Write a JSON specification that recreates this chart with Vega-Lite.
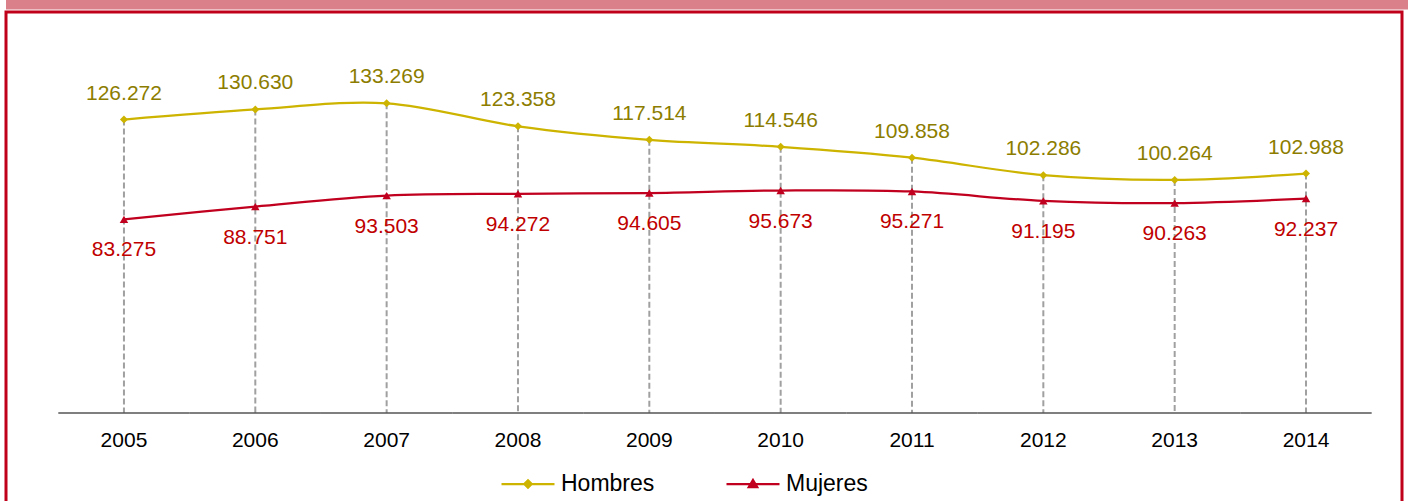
{
  "$schema": "https://vega.github.io/schema/vega-lite/v6.json",
  "padding": 0,
  "background": "white",
  "spacing": 0,
  "align": "none",
  "config": {
    "font": "Liberation Sans",
    "locale": {"number": {"decimal": ",", "thousands": ".", "grouping": [3], "currency": ["", " €"]}},
    "axisY": {"labels": false, "ticks": false, "domain": false, "grid": false, "minExtent": 4, "maxExtent": 4}
  },
  "datasets": {
    "pob": [
      {"year": "2005", "sexo": "Hombres", "value": 126272},
      {"year": "2006", "sexo": "Hombres", "value": 130630},
      {"year": "2007", "sexo": "Hombres", "value": 133269},
      {"year": "2008", "sexo": "Hombres", "value": 123358},
      {"year": "2009", "sexo": "Hombres", "value": 117514},
      {"year": "2010", "sexo": "Hombres", "value": 114546},
      {"year": "2011", "sexo": "Hombres", "value": 109858},
      {"year": "2012", "sexo": "Hombres", "value": 102286},
      {"year": "2013", "sexo": "Hombres", "value": 100264},
      {"year": "2014", "sexo": "Hombres", "value": 102988},
      {"year": "2005", "sexo": "Mujeres", "value": 83275},
      {"year": "2006", "sexo": "Mujeres", "value": 88751},
      {"year": "2007", "sexo": "Mujeres", "value": 93503},
      {"year": "2008", "sexo": "Mujeres", "value": 94272},
      {"year": "2009", "sexo": "Mujeres", "value": 94605},
      {"year": "2010", "sexo": "Mujeres", "value": 95673},
      {"year": "2011", "sexo": "Mujeres", "value": 95271},
      {"year": "2012", "sexo": "Mujeres", "value": 91195},
      {"year": "2013", "sexo": "Mujeres", "value": 90263},
      {"year": "2014", "sexo": "Mujeres", "value": 92237}
    ]
  },
  "vconcat": [
    {
      "width": 1408,
      "height": 9.5,
      "view": {"fill": "#d9808a", "stroke": null},
      "data": {"values": [{"a": 1}]},
      "mark": {"type": "point", "opacity": 0},
      "encoding": {}
    },
    {
      "width": 1396,
      "height": 500,
      "view": {"fill": "white", "stroke": "#c0001a", "strokeWidth": 3},
      "data": {"name": "pob"},
      "encoding": {
        "x": {
          "field": "year",
          "type": "ordinal",
          "scale": {"type": "band", "paddingInner": 0, "paddingOuter": 0.3145, "align": 0.633},
          "axis": {
            "orient": "bottom",
            "offset": -100,
            "domain": false,
            "ticks": false,
            "tickSize": 0,
            "grid": false,
            "title": null,
            "labelAngle": 0,
            "labelPadding": 17,
            "labelFontSize": 21,
            "labelColor": "#000000",
            "labelFont": "Liberation Sans"
          }
        }
      },
      "layer": [
        {
          "transform": [{"filter": "datum.sexo === 'Hombres'"}],
          "mark": {"type": "rule", "color": "#a0a0a0", "strokeWidth": 2, "strokeDash": [6, 3]},
          "encoding": {
            "y": {"field": "value", "type": "quantitative", "title": null, "scale": {"domain": [-42888, 172629], "nice": false, "zero": false}},
            "y2": {"datum": 0}
          }
        },
        {
          "transform": [{"filter": "datum.sexo === 'Hombres'"}],
          "mark": {"type": "bar", "color": "#000000"},
          "encoding": {
            "y": {"datum": 0},
            "y2": {"datum": -431}
          }
        },
        {
          "mark": {"type": "line", "interpolate": "cardinal", "strokeWidth": 2.25},
          "encoding": {
            "y": {"field": "value", "type": "quantitative", "title": null},
            "color": {
              "field": "sexo",
              "type": "nominal",
              "scale": {"domain": ["Hombres", "Mujeres"], "range": ["#cdb400", "#c0001e"]},
              "legend": {
                "orient": "none",
                "legendX": 494,
                "legendY": 456,
                "direction": "horizontal",
                "title": null,
                "labelFontSize": 23,
                "labelFont": "Liberation Sans",
                "labelColor": "#000000",
                "symbolSize": 2809,
                "labelOffset": 5,
                "columnPadding": 67,
                "symbolStrokeWidth": 2.25,
                "encode": {
                  "symbols": {
                    "update": {
                      "shape": {"signal": "datum.value === 'Hombres' ? 'M-1,0L1,0M0,-0.14L0.14,0L0,0.14L-0.14,0Z' : 'M-1,0L1,0M0,-0.15L0.16,0.12L-0.16,0.12Z'"},
                      "fill": {"signal": "datum.value === 'Hombres' ? '#cdb400' : '#c0001e'"},
                      "stroke": {"signal": "datum.value === 'Hombres' ? '#cdb400' : '#c0001e'"},
                      "strokeWidth": {"value": 2.25},
                      "opacity": {"value": 1},
                      "fillOpacity": {"value": 1}
                    }
                  }
                }
              }
            }
          }
        },
        {
          "transform": [{"filter": "datum.sexo === 'Hombres'"}],
          "mark": {"type": "point", "shape": "diamond", "filled": true, "size": 64, "color": "#cdb400", "opacity": 1},
          "encoding": {"y": {"field": "value", "type": "quantitative", "title": null}}
        },
        {
          "transform": [{"filter": "datum.sexo === 'Mujeres'"}],
          "mark": {"type": "point", "shape": "triangle-up", "filled": true, "size": 72, "color": "#c0001e", "opacity": 1},
          "encoding": {"y": {"field": "value", "type": "quantitative", "title": null}}
        },
        {
          "transform": [{"filter": "datum.sexo === 'Hombres'"}],
          "mark": {"type": "text", "baseline": "alphabetic", "align": "center", "dy": -20, "fontSize": 21, "color": "#8c7d00", "font": "Liberation Sans"},
          "encoding": {
            "y": {"field": "value", "type": "quantitative", "title": null},
            "text": {"field": "value", "type": "quantitative", "format": ",d"}
          }
        },
        {
          "transform": [{"filter": "datum.sexo === 'Mujeres'"}],
          "mark": {"type": "text", "baseline": "alphabetic", "align": "center", "dy": 37, "fontSize": 21, "color": "#c00000", "font": "Liberation Sans"},
          "encoding": {
            "y": {"field": "value", "type": "quantitative", "title": null},
            "text": {"field": "value", "type": "quantitative", "format": ",d"}
          }
        }
      ]
    }
  ]
}
